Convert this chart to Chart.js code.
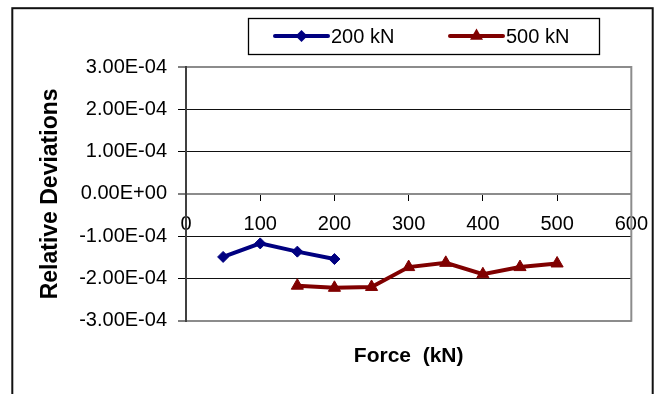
<!DOCTYPE html>
<html>
<head>
<meta charset="utf-8">
<script src="https://cdn.jsdelivr.net/npm/chart.js@4.4.1/dist/chart.umd.min.js"></script>
<style>
  html, body { margin: 0; padding: 0; background: #fff; }
  #wrap { width: 661px; height: 394px; position: relative; }
</style>
</head>
<body>
<div id="wrap"><canvas id="c" width="661" height="394"></canvas></div>
<script>
// ---- data ----
const seriesNames = ['200 kN', '500 kN'];
const forces200 = [50, 100, 150, 200];
const dev200 = [-1.49e-4, -1.17e-4, -1.365e-4, -1.54e-4];
const forces500 = [150, 200, 250, 300, 350, 400, 450, 500];
const dev500 = [-2.17e-4, -2.22e-4, -2.20e-4, -1.73e-4, -1.63e-4, -1.90e-4, -1.73e-4, -1.645e-4];
const xTitle = 'Force  (kN)';
const yTitle = 'Relative Deviations';

const FONT = "'Liberation Sans', Arial, sans-serif";

function fmtSci(v) {
  if (Math.abs(v) < 1e-12) return '0.00E+00';
  const s = v.toExponential(2);
  const parts = s.split('e');
  const sign = parts[1][0];
  const digits = parts[1].slice(1).padStart(2, '0');
  return parts[0] + 'E' + sign + digits;
}

const frame = {
  id: 'frame',
  beforeDraw(chart) {
    const ctx = chart.ctx;
    ctx.save();
    ctx.fillStyle = '#fff';
    ctx.fillRect(0, 0, chart.width, chart.height);
    ctx.strokeStyle = '#111';
    ctx.lineWidth = 2;
    ctx.strokeRect(12.3, 8.2, 640.4, 500);
    ctx.restore();
  },
  beforeDatasetsDraw(chart) {
    const ctx = chart.ctx, a = chart.chartArea;
    ctx.save();
    ctx.strokeStyle = '#8c8c8c';
    ctx.lineWidth = 2;
    ctx.beginPath();
    ctx.moveTo(a.right, a.top - 1);
    ctx.lineTo(a.right, a.bottom + 1);
    ctx.stroke();
    ctx.restore();
  },
  afterDraw(chart) {
    const ctx = chart.ctx;
    ctx.save();
    // legend box
    ctx.strokeStyle = '#000';
    ctx.lineWidth = 1.3;
    ctx.strokeRect(248.5, 18.5, 351, 36);
    const items = [
      {x0: 275, x1: 328, tx: 331},
      {x0: 450, x1: 503, tx: 506}
    ];
    const cy = 36;
    chart.data.datasets.forEach((ds, i) => {
      const it = items[i];
      ctx.strokeStyle = ds.borderColor;
      ctx.lineWidth = 4;
      ctx.lineCap = 'round';
      ctx.beginPath();
      ctx.moveTo(it.x0, cy);
      ctx.lineTo(it.x1, cy);
      ctx.stroke();
      const mx = (it.x0 + it.x1) / 2;
      ctx.fillStyle = ds.borderColor;
      ctx.beginPath();
      if (ds.pointStyle === 'rectRot') {
        const r = 6;
        ctx.moveTo(mx, cy - r); ctx.lineTo(mx + r, cy); ctx.lineTo(mx, cy + r); ctx.lineTo(mx - r, cy);
      } else {
        const r = 7.5;
        ctx.moveTo(mx, cy - r);
        ctx.lineTo(mx + r * 0.866, cy + r * 0.5);
        ctx.lineTo(mx - r * 0.866, cy + r * 0.5);
      }
      ctx.closePath();
      ctx.fill();
      ctx.fillStyle = '#000';
      ctx.font = '20px ' + FONT;
      ctx.textBaseline = 'middle';
      ctx.textAlign = 'left';
      ctx.fillText(ds.label, it.tx, cy + 1);
    });
    ctx.restore();
  }
};

const isEdge = v => Math.abs(Math.abs(v) - 3e-4) < 1e-9;
const isZero = v => Math.abs(v) < 1e-9;

new Chart(document.getElementById('c'), {
  type: 'line',
  data: {
    datasets: [
      {
        label: seriesNames[0],
        data: forces200.map((f, i) => ({x: f, y: dev200[i]})),
        borderColor: '#000080',
        backgroundColor: '#000080',
        borderWidth: 4,
        pointStyle: 'rectRot',
        pointRadius: 5.5,
        pointBorderWidth: 1,
        tension: 0
      },
      {
        label: seriesNames[1],
        data: forces500.map((f, i) => ({x: f, y: dev500[i]})),
        borderColor: '#800000',
        backgroundColor: '#800000',
        borderWidth: 4,
        pointStyle: 'triangle',
        pointRadius: 7,
        pointBorderWidth: 1,
        tension: 0
      }
    ]
  },
  options: {
    responsive: false,
    animation: false,
    devicePixelRatio: 1,
    layout: { padding: { left: 0, right: 29, top: 67, bottom: 0 } },
    plugins: {
      legend: { display: false },
      tooltip: { enabled: false },
      title: {
        display: true,
        position: 'bottom',
        fullSize: false,
        text: xTitle,
        color: '#000',
        font: { family: FONT, size: 21, weight: 'bold' },
        padding: { top: 23, bottom: 25 }
      }
    },
    scales: {
      x: {
        type: 'linear',
        position: { y: 0 },
        min: 0, max: 600,
        ticks: {
          stepSize: 100,
          color: '#000',
          font: { family: FONT, size: 20 },
          padding: 13,
          maxRotation: 0,
          autoSkip: false
        },
        grid: { drawOnChartArea: false, drawTicks: true, tickLength: 6, tickColor: '#000', tickWidth: 1 },
        border: { display: true, color: '#8c8c8c', width: 2 }
      },
      y: {
        type: 'linear',
        position: 'left',
        min: -3e-4, max: 3e-4,
        afterFit(scale) { scale.width = 186; },
        ticks: {
          stepSize: 1e-4,
          color: '#000',
          font: { family: FONT, size: 20 },
          padding: 11,
          callback: v => fmtSci(v)
        },
        grid: {
          color: c => (isEdge(c.tick.value) || isZero(c.tick.value)) ? '#8c8c8c' : '#111',
          lineWidth: c => (isEdge(c.tick.value) || isZero(c.tick.value)) ? 2 : 1,
          tickLength: 8,
          tickColor: '#000',
          tickWidth: 1
        },
        border: { display: true, color: '#404040', width: 2 },
        title: {
          display: true,
          text: yTitle,
          color: '#000',
          font: { family: FONT, size: 23, weight: 'bold' },
          padding: { top: 37, bottom: 0 }
        }
      }
    }
  },
  plugins: [frame]
});
</script>
</body>
</html>
